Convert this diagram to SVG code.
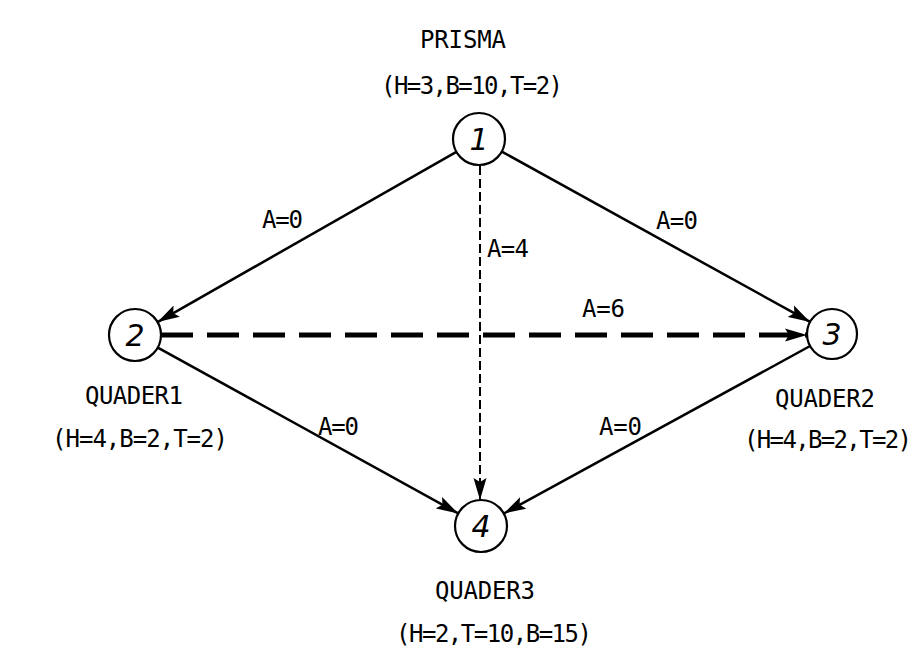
<svg xmlns="http://www.w3.org/2000/svg" width="922" height="650" viewBox="0 0 922 650">
<style>
.bg{fill:#fff}
.node{fill:#fff;stroke:#000;stroke-width:2.2}
.num{font-family:"DejaVu Sans",sans-serif;font-style:italic;font-size:30px;fill:#000;text-anchor:middle}
.t{font-family:"DejaVu Sans Mono","Liberation Mono",monospace;font-size:24px;fill:#000;text-anchor:middle}
.lbl{font-family:"DejaVu Sans Mono","Liberation Mono",monospace;font-size:24px;fill:#000}
.e{fill:none;stroke:#000;stroke-width:2.5;marker-end:url(#ah)}
.e4{fill:none;stroke:#000;stroke-width:2;stroke-dasharray:9 4;marker-end:url(#ah)}
.e6{fill:none;stroke:#000;stroke-width:5;stroke-dasharray:32 14;marker-end:url(#ah)}
</style>
<defs>
<marker id="ah" markerUnits="userSpaceOnUse" markerWidth="24" markerHeight="14" refX="22" refY="7" orient="auto">
<path d="M0,0.5 L22,7 L0,13.5 L4,7 z" fill="#000"/>
</marker>
</defs>
<rect class="bg" x="0" y="0" width="922" height="650"/>
<g id="edges">
<line class="e" x1="456.4" y1="151.9" x2="157.6" y2="322.1"/>
<line class="e" x1="501.8" y1="151.6" x2="810.1" y2="321.9"/>
<line class="e4" x1="480" y1="166" x2="480" y2="500"/>
<line class="e6" x1="161" y1="335" x2="807" y2="335"/>
<line class="e" x1="157.8" y1="347.6" x2="458.2" y2="513.4"/>
<line class="e" x1="810.1" y1="346" x2="503.8" y2="513.5"/>
<text class="lbl" x="262" y="228" textLength="41">A=0</text>
<text class="lbl" x="656" y="229" textLength="42">A=0</text>
<text class="lbl" x="487" y="257" textLength="42">A=4</text>
<text class="lbl" x="582" y="317" textLength="43">A=6</text>
<text class="lbl" x="318" y="435" textLength="41">A=0</text>
<text class="lbl" x="599" y="435" textLength="43">A=0</text>
</g>
<g id="node1">
<circle class="node" cx="479" cy="139" r="26"/>
<text class="num" x="479" y="150">1</text>
<text class="t" x="463" y="48" textLength="86">PRISMA</text>
<text class="t" x="472" y="94" textLength="182">(H=3,B=10,T=2)</text>
</g>
<g id="node2">
<circle class="node" cx="135" cy="335" r="26"/>
<text class="num" x="135" y="346">2</text>
<text class="t" x="134" y="404" textLength="98">QUADER1</text>
<text class="t" x="140" y="447" textLength="176">(H=4,B=2,T=2)</text>
</g>
<g id="node3">
<circle class="node" cx="832" cy="334" r="25"/>
<text class="num" x="832" y="345">3</text>
<text class="t" x="825" y="407" textLength="100">QUADER2</text>
<text class="t" x="828" y="448" textLength="168">(H=4,B=2,T=2)</text>
</g>
<g id="node4">
<circle class="node" cx="481" cy="526" r="26"/>
<text class="num" x="481" y="537">4</text>
<text class="t" x="485" y="599" textLength="100">QUADER3</text>
<text class="t" x="494" y="642" textLength="196">(H=2,T=10,B=15)</text>
</g>
</svg>
